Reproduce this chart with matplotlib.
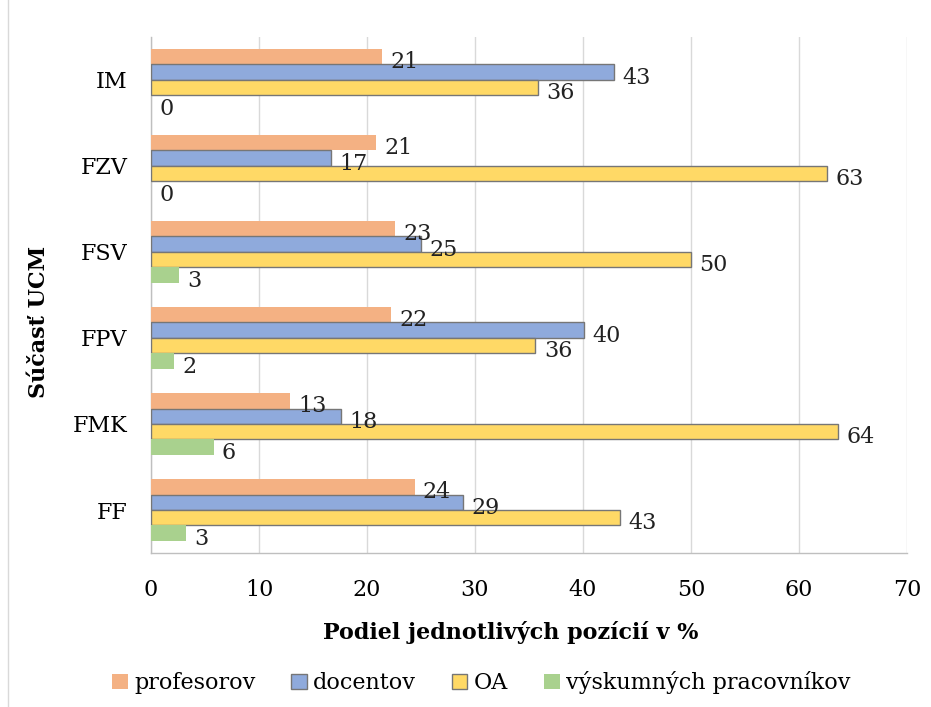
import numpy as np
import matplotlib.pyplot as plt
from matplotlib.lines import Line2D

plt.rcParams['font.family'] = ['DejaVu Serif']

categories = ['FF', 'FMK', 'FPV', 'FSV', 'FZV', 'IM']
profesorov = [24.4, 12.9, 22.2, 22.6, 20.8, 21.4]
docentov = [28.9, 17.6, 40.1, 25.0, 16.7, 42.9]
oa = [43.4, 63.6, 35.6, 50.0, 62.6, 35.8]
vyskumnych = [3.2, 5.8, 2.1, 2.6, 0.0, 0.0]

series = [
    ('profesorov', profesorov, '#F4B183', 'none'),
    ('docentov', docentov, '#8FAADC', '#767676'),
    ('OA', oa, '#FFD966', '#767676'),
    ('výskumných pracovníkov', vyskumnych, '#A9D18E', 'none'),
]

fig = plt.figure(figsize=(9.31, 7.07), dpi=100)
ax = fig.add_axes([0.1622, 0.2178, 0.8120, 0.7300])

y = np.arange(len(categories))
h = 0.18
offsets = [1.5 * h, 0.5 * h, -0.5 * h, -1.5 * h]

handles = []
for (name, vals, col, ec), off in zip(series, offsets):
    bars = ax.barh(y + off, vals, height=h, color=col, edgecolor=ec,
                   linewidth=1.0, label=name, zorder=3)
    handles.append(bars)
    for yy, v in zip(y + off, vals):
        ax.annotate('%d' % round(v), xy=(v, yy), xytext=(6, -4),
                    textcoords='offset points', ha='left', va='center',
                    fontsize=16, color='#222222', zorder=4)

ax.set_xlim(0, 70)
ax.set_ylim(-0.5, 5.5)
ax.set_xticks(np.arange(0, 71, 10))
ax.set_yticks(y)
ax.set_yticklabels(categories)
ax.tick_params(axis='x', length=0, pad=19, labelsize=16)
ax.tick_params(axis='y', length=0, pad=17, labelsize=16)
ax.grid(axis='x', color='#d9d9d9', linewidth=1, zorder=0)

for s in ['top', 'right']:
    ax.spines[s].set_visible(False)
for s in ['left', 'bottom']:
    ax.spines[s].set_color('#bfbfbf')
    ax.spines[s].set_linewidth(1)

ax.set_xlabel('Podiel jednotlivých pozícií v %', fontsize=16, fontweight='bold')
ax.set_ylabel('Súčasť UCM', fontsize=16, fontweight='bold')
ax.xaxis.set_label_coords(0.476, -0.132)
ax.yaxis.set_label_coords(-0.134, 0.448)

fig.legend(handles=handles, loc='center', bbox_to_anchor=(0.517, 0.034),
           ncol=4, frameon=False, fontsize=16, handlelength=0.7,
           handleheight=0.7, handletextpad=0.3, columnspacing=1.6)

fig.add_artist(Line2D([8 / 931, 8 / 931], [0, 1], color='#d9d9d9', linewidth=1))

fig.savefig('out.png', dpi=100)
